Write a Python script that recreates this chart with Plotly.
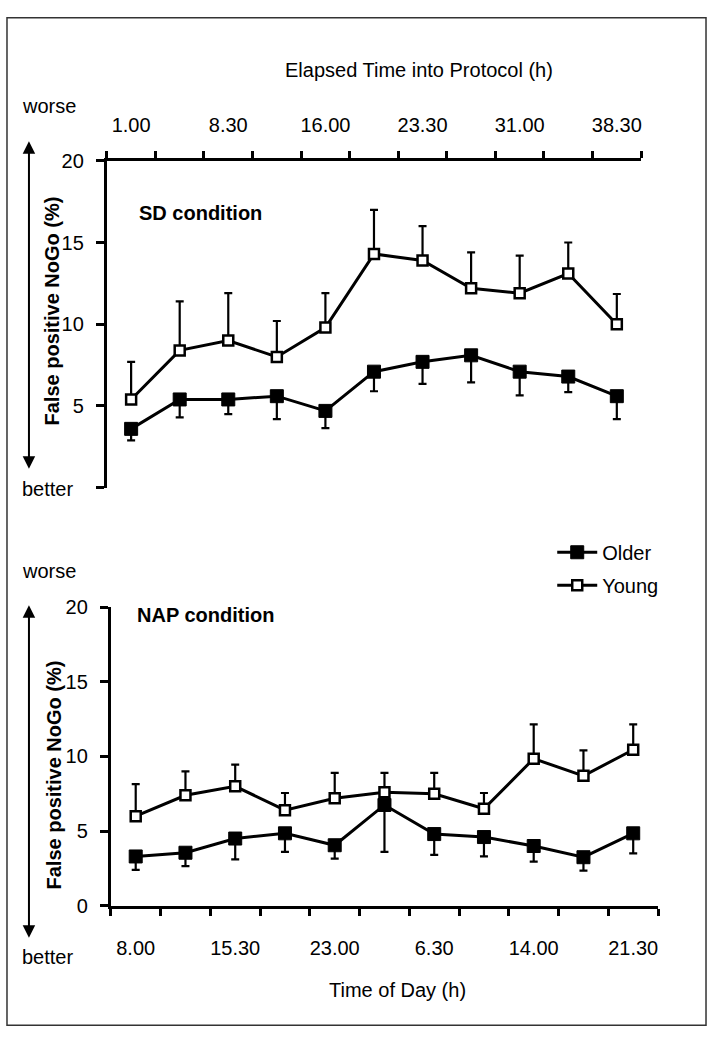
import plotly.graph_objects as go

W, H = 715, 1043

# ---- data ----
elapsed_labels = ["1.00", "4.45", "8.30", "12.15", "16.00", "19.45",
                  "23.30", "27.15", "31.00", "34.45", "38.30"]
clock_labels = ["8.00", "11.45", "15.30", "19.15", "23.00", "2.45",
                "6.30", "10.15", "14.00", "17.45", "21.30"]

sd_older = [3.6, 5.4, 5.4, 5.6, 4.7, 7.1, 7.7, 8.1, 7.1, 6.8, 5.6]
sd_older_err = [0.7, 1.1, 0.9, 1.4, 1.05, 1.2, 1.35, 1.65, 1.45, 0.95, 1.4]
sd_young = [5.4, 8.4, 9.0, 8.0, 9.8, 14.3, 13.9, 12.2, 11.9, 13.1, 10.0]
sd_young_err = [2.3, 3.0, 2.9, 2.2, 2.1, 2.7, 2.1, 2.2, 2.3, 1.9, 1.85]

nap_older = [3.3, 3.55, 4.5, 4.85, 4.05, 6.75, 4.8, 4.6, 4.0, 3.25, 4.85]
nap_older_err = [0.9, 0.9, 1.4, 1.25, 0.9, 3.15, 1.4, 1.3, 1.05, 0.9, 1.35]
nap_young = [6.0, 7.4, 8.0, 6.4, 7.2, 7.6, 7.5, 6.5, 9.85, 8.7, 10.45]
nap_young_err = [2.15, 1.6, 1.45, 1.15, 1.7, 1.3, 1.4, 1.05, 2.3, 1.7, 1.7]

y_ticks = [0, 5, 10, 15, 20]

FONT = "Liberation Sans, Arial, sans-serif"
n = len(elapsed_labels)
pos = list(range(n))
zeros = [0] * n


def px(x):
    return x / W


def py(y):
    return 1 - y / H


fig = go.Figure()


def add_panel(xa, ya, older, older_err, young, young_err, show):
    fig.add_trace(go.Scatter(
        x=pos, y=older, xaxis=xa, yaxis=ya, mode="lines+markers",
        name="Older", legendgroup="older", showlegend=show,
        line=dict(color="black", width=3),
        marker=dict(symbol="square", size=13, color="black",
                    line=dict(color="black", width=1)),
        error_y=dict(type="data", symmetric=False, array=zeros,
                     arrayminus=older_err, color="black", thickness=2.2, width=4),
    ))
    fig.add_trace(go.Scatter(
        x=pos, y=young, xaxis=xa, yaxis=ya, mode="lines+markers",
        name="Young", legendgroup="young", showlegend=show,
        line=dict(color="black", width=3),
        marker=dict(symbol="square", size=10, color="white",
                    line=dict(color="black", width=2.5)),
        error_y=dict(type="data", symmetric=False, array=young_err,
                     arrayminus=zeros, color="black", thickness=2.2, width=4),
    ))


add_panel("x", "y", sd_older, sd_older_err, sd_young, sd_young_err, False)
add_panel("x2", "y2", nap_older, nap_older_err, nap_young, nap_young_err, True)

common_x = dict(
    range=[-0.5, n - 0.5], showline=True, linecolor="black", linewidth=3,
    showgrid=False, zeroline=False, ticks="",
    tickvals=pos[::2],
    tickfont=dict(family=FONT, size=20, color="black"),
    minor=dict(tickvals=[p - 0.5 for p in range(n + 1)], ticks="outside",
               ticklen=7, tickwidth=2.5, tickcolor="black", showgrid=False),
)
common_y = dict(
    range=[0, 20], showline=True, linecolor="black", linewidth=3,
    showgrid=False, zeroline=False, ticks="outside", ticklen=8, tickwidth=2.5,
    tickcolor="black", tickvals=y_ticks,
    tickfont=dict(family=FONT, size=20, color="black"),
    ticklabelstandoff=8,
)

fig.update_layout(
    width=W, height=H, autosize=False,
    margin=dict(l=0, r=0, t=0, b=0),
    paper_bgcolor="white", plot_bgcolor="rgba(0,0,0,0)",
    font=dict(family=FONT, size=20, color="black"),
    xaxis=dict(common_x, domain=[px(107), px(642)], anchor="y", side="top",
               ticktext=elapsed_labels[::2], ticklabelstandoff=18),
    yaxis=dict(common_y, domain=[py(487), py(153)], anchor="x",
               ticktext=["", "5", "10", "15", "20"]),
    xaxis2=dict(common_x, domain=[px(111), px(659)], anchor="y2", side="bottom",
                ticktext=clock_labels[::2], ticklabelstandoff=22),
    yaxis2=dict(common_y, domain=[py(914), py(609)], anchor="x2",
                ticktext=[str(v) for v in y_ticks]),
    legend=dict(x=px(553), y=py(533), xanchor="left", yanchor="top",
                font=dict(family=FONT, size=20, color="black"),
                bgcolor="rgba(0,0,0,0)", itemwidth=40, tracegroupgap=4),
    showlegend=True,
)

fig.add_shape(type="rect", xref="paper", yref="paper",
              x0=px(7), x1=px(707), y0=py(1036), y1=py(7),
              line=dict(color="#333333", width=1.5))

annotations = []


def text_ann(txt, x, y, bold=False, angle=0, xanchor="center"):
    annotations.append(dict(
        text=f"<b>{txt}</b>" if bold else txt, x=px(x), y=py(y),
        xref="paper", yref="paper", showarrow=False, textangle=angle,
        xanchor=xanchor, yanchor="middle",
        font=dict(family=FONT, size=20, color="black")))


text_ann("Elapsed Time into Protocol (h)", 420, 60)
text_ann("Time of Day (h)", 398, 1000)
text_ann("SD condition", 137, 206, bold=True, xanchor="left")
text_ann("NAP condition", 135, 617, bold=True, xanchor="left")
text_ann("worse", 49, 97)
text_ann("better", 48, 488)
text_ann("worse", 49, 572)
text_ann("better", 48, 966)
text_ann("False positive NoGo (%)", 52, 306, bold=True, angle=-90)
text_ann("False positive NoGo (%)", 54, 780, bold=True, angle=-90)

for top, bottom in [(133, 462), (607, 941)]:
    annotations.append(dict(
        x=px(29), y=py(top), xref="paper", yref="paper",
        ax=0, ay=bottom - top, axref="pixel", ayref="pixel",
        text="", showarrow=True, arrowhead=2, startarrowhead=2,
        arrowside="end+start", arrowsize=1.25, startarrowsize=1.25,
        arrowwidth=2, arrowcolor="black", standoff=0, startstandoff=0))

fig.update_layout(annotations=annotations)

page_reset = ("document.documentElement.style.overflow='hidden';"
              "document.body.style.margin='0';"
              "document.body.style.padding='0';"
              "document.body.style.overflow='hidden';")
fig.write_html("out.html", post_script=page_reset,
               config={"displayModeBar": False})
